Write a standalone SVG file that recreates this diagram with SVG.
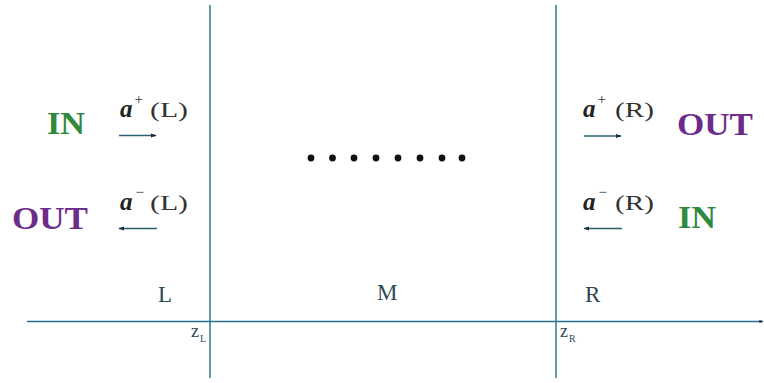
<svg xmlns="http://www.w3.org/2000/svg" width="764" height="383" viewBox="0 0 764 383">
<defs>
<style>
.ax{stroke:#24708a;stroke-width:1.4;fill:none}
.ar{stroke:#2a5f70;stroke-width:1.3;fill:none}
.big{font-family:"Liberation Serif","DejaVu Serif",serif;font-weight:bold;font-size:31px}
.in{fill:#2f8a3e}
.out{fill:#6e2c8a}
.m{font-family:"Liberation Serif","DejaVu Serif",serif;font-size:22px;fill:#333}
.ma{font-family:"Liberation Serif","DejaVu Serif",serif;font-size:25px;font-weight:bold;font-style:italic;fill:#222}
.sup{font-family:"Liberation Serif","DejaVu Serif",serif;font-size:15px;fill:#333}
.lab{font-family:"Liberation Serif","DejaVu Serif",serif;font-size:23px;fill:#2e4a52}
.z{font-family:"Liberation Serif","DejaVu Serif",serif;font-size:18px;fill:#2e4a52}
.zs{font-family:"Liberation Serif","DejaVu Serif",serif;font-size:10px;fill:#2e4a52}
</style>
<marker id="ah" viewBox="0 0 10 10" refX="9" refY="5" markerWidth="6" markerHeight="6" orient="auto-start-reverse" markerUnits="userSpaceOnUse">
<path d="M0,1.5 L10,5 L0,8.5 z" fill="#1d2a30"/>
</marker>
<marker id="ah2" viewBox="0 0 10 10" refX="9" refY="5" markerWidth="4" markerHeight="4" orient="auto" markerUnits="userSpaceOnUse">
<path d="M0,1.5 L10,5 L0,8.5 z" fill="#1d2a30"/>
</marker>
</defs>
<rect width="764" height="383" fill="#fff"/>
<g id="connectors">
<line class="ax" x1="210" y1="5" x2="210" y2="378"/>
<line class="ax" x1="556" y1="5" x2="556" y2="378"/>
<line class="ax" x1="27" y1="321.5" x2="763" y2="321.5" marker-end="url(#ah2)"/>
<line class="ar" x1="119" y1="135.5" x2="156" y2="135.5" marker-end="url(#ah)"/>
<line class="ar" x1="119" y1="228.5" x2="157" y2="228.5" marker-start="url(#ah)"/>
<line class="ar" x1="584" y1="136" x2="621" y2="136" marker-end="url(#ah)"/>
<line class="ar" x1="584" y1="228.5" x2="622" y2="228.5" marker-start="url(#ah)"/>
</g>
<g id="in-left"><text class="big in" x="47" y="134" textLength="38" lengthAdjust="spacingAndGlyphs">IN</text></g>
<g id="out-left"><text class="big out" x="12" y="229" textLength="76" lengthAdjust="spacingAndGlyphs">OUT</text></g>
<g id="out-right"><text class="big out" x="677" y="135" textLength="76" lengthAdjust="spacingAndGlyphs">OUT</text></g>
<g id="in-right"><text class="big in" x="678" y="228" textLength="38" lengthAdjust="spacingAndGlyphs">IN</text></g>
<g id="aplus-L"><text class="ma" x="120" y="117">a</text><text class="sup" x="134.5" y="104">+</text><text class="m" x="150" y="117" textLength="38" lengthAdjust="spacingAndGlyphs">(L)</text></g>
<g id="aminus-L"><text class="ma" x="120" y="210">a</text><text class="sup" x="135.5" y="197">−</text><text class="m" x="150" y="210" textLength="38" lengthAdjust="spacingAndGlyphs">(L)</text></g>
<g id="aplus-R"><text class="ma" x="583" y="117">a</text><text class="sup" x="597.5" y="104">+</text><text class="m" x="615" y="117" textLength="39" lengthAdjust="spacingAndGlyphs">(R)</text></g>
<g id="aminus-R"><text class="ma" x="583" y="210">a</text><text class="sup" x="598.5" y="197">−</text><text class="m" x="615" y="210" textLength="39" lengthAdjust="spacingAndGlyphs">(R)</text></g>
<g id="dots" fill="#111">
<circle cx="311" cy="158" r="3.4"/><circle cx="332.5" cy="158" r="3.4"/><circle cx="354" cy="158" r="3.4"/><circle cx="376" cy="158" r="3.4"/><circle cx="398" cy="158" r="3.4"/><circle cx="420" cy="158" r="3.4"/><circle cx="442" cy="158" r="3.4"/><circle cx="462" cy="158" r="3.4"/>
</g>
<g id="region-L"><text class="lab" x="158" y="302">L</text></g>
<g id="region-M"><text class="lab" x="377" y="300">M</text></g>
<g id="region-R"><text class="lab" x="585" y="302">R</text></g>
<g id="zL"><text class="z" x="191" y="337">z</text><text class="zs" x="200" y="342">L</text></g>
<g id="zR"><text class="z" x="560" y="337">z</text><text class="zs" x="569" y="342">R</text></g>
</svg>
